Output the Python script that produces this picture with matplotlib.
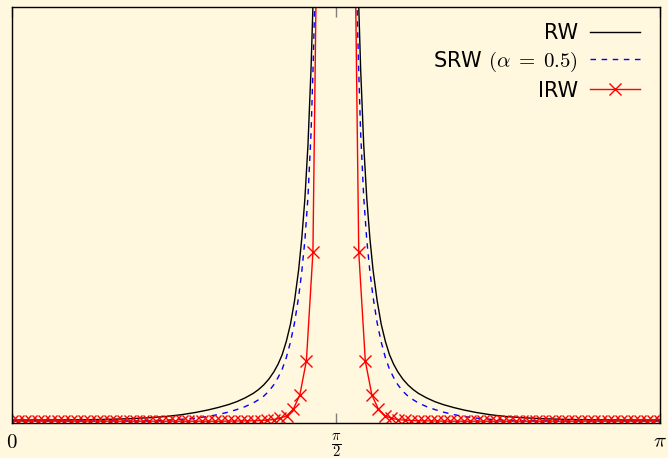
import numpy as np
import matplotlib
matplotlib.use("Agg")
import matplotlib.pyplot as plt

plt.rcParams['mathtext.fontset'] = 'cm'
plt.rcParams['font.family'] = 'DejaVu Sans'

# RW / SRW curves: distance from pi/2 (radians) and values
# (left half; the right half is the mirror image)
line_offsets = [1.5708, 1.35, 1.2, 1.1, 1.0, 0.9, 0.82, 0.75, 0.68, 0.62,
                0.57, 0.52, 0.48, 0.44, 0.4, 0.375, 0.35, 0.325, 0.3, 0.28,
                0.26, 0.24, 0.22, 0.2, 0.18, 0.165, 0.15, 0.135, 0.12, 0.11,
                0.1, 0.075, 0.05, 0.01]
rw_half = [0.078, 0.080, 0.086, 0.095, 0.11, 0.135, 0.165, 0.205, 0.26, 0.32,
           0.38, 0.45, 0.52, 0.61, 0.72, 0.81, 0.92, 1.06, 1.24, 1.42,
           1.65, 1.97, 2.38, 2.95, 3.70, 4.45, 5.40, 6.70, 8.55, 10.2,
           12.4, 22.0, 50.0, 1200.0]
srw_half = [0.05, 0.051, 0.053, 0.055, 0.058, 0.064, 0.075, 0.095, 0.125, 0.165,
            0.21, 0.27, 0.33, 0.40, 0.49, 0.565, 0.65, 0.77, 0.93, 1.10,
            1.30, 1.58, 1.95, 2.42, 3.05, 3.65, 4.40, 5.45, 7.0, 8.6,
            10.6, 19.0, 44.0, 1100.0]

# IRW: 100 evenly spaced angles on [0, pi] (left half, mirrored)
n_points = 100
irw_half = [0.05, 0.05, 0.05, 0.05, 0.05, 0.05, 0.05, 0.05, 0.05, 0.05,
            0.05, 0.05, 0.05, 0.05, 0.05, 0.05, 0.05, 0.05, 0.05, 0.05,
            0.05, 0.05, 0.05, 0.05, 0.05, 0.05, 0.05, 0.05, 0.05, 0.05,
            0.05, 0.05, 0.05, 0.052, 0.054, 0.056, 0.058, 0.06, 0.065, 0.075,
            0.09, 0.12, 0.18, 0.34, 0.68, 1.50, 4.11, 17.0, 120.0, 9000.0]

labels = ['RW', r'SRW $(\alpha\;=\;0.5)$', 'IRW']
tick_pos = [0, np.pi / 2, np.pi]
tick_labels = [r'$0$', r'$\frac{\pi}{2}$', r'$\pi$']

bg = '#fff7de'

offs = np.array(line_offsets)
x_line = np.concatenate([np.pi / 2 - offs, (np.pi / 2 + offs)[::-1]])
rw = rw_half + rw_half[::-1]
srw = srw_half + srw_half[::-1]
x_irw = np.linspace(0, np.pi, n_points)
irw = irw_half + irw_half[::-1]

fig = plt.figure(figsize=(6.68, 4.58), dpi=100, facecolor=bg)
ax = fig.add_axes([0.0175, 0.0758, 0.9705, 0.908])
ax.set_facecolor(bg)

ax.plot(x_line, rw, color='black', lw=1.0, label=labels[0])
ax.plot(x_line, srw, color='#0000ff', lw=1.0, ls=(0, (4, 4)), label=labels[1])
ax.plot(x_irw, irw, color='#ff0000', lw=1.0, marker='x', ms=8, mew=1.0,
        label=labels[2])

ax.set_xlim(0, np.pi)
ax.set_ylim(0, 10)
ax.set_xticks(tick_pos)
ax.set_xticklabels(tick_labels, fontsize=15)
ax.set_yticks([])
ax.tick_params(axis='x', direction='in', length=7, width=1, color='#808080',
               top=True, pad=6)
for s in ax.spines.values():
    s.set_linewidth(1.0)

ax.legend(loc='upper right', frameon=False, markerfirst=False, fontsize=15,
          handlelength=2.4, labelspacing=0.32, borderaxespad=0.35,
          handletextpad=0.6, bbox_to_anchor=(0.994, 1.0))

fig.savefig('out.png', dpi=100, facecolor=bg)
